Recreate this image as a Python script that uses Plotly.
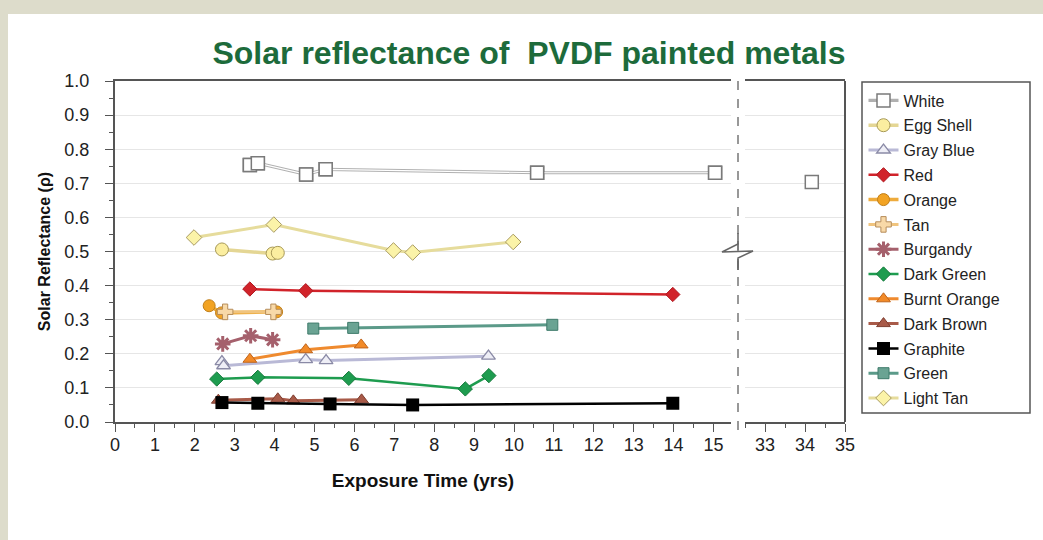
import plotly.graph_objects as go

# ---------------- data (years, reflectance) ----------------
series_names = ["White", "Egg Shell", "Gray Blue", "Red", "Orange", "Tan", "Burgandy",
                "Dark Green", "Burnt Orange", "Dark Brown", "Graphite", "Green", "Light Tan"]

white_x = [3.38, 3.58, 4.79, 5.28, 10.58, 15.04]
white_y = [0.754, 0.759, 0.726, 0.741, 0.731, 0.731]
white_late_x = [34.17]
white_late_y = [0.704]

eggshell_x = [2.68, 3.95, 4.08]
eggshell_y = [0.506, 0.494, 0.496]

grayblue_x = [2.68, 2.72, 4.78, 5.29, 9.36]
grayblue_y = [0.177, 0.165, 0.183, 0.180, 0.193]

red_x = [3.38, 4.78, 13.98]
red_y = [0.390, 0.385, 0.374]

orange_x = [2.36, 2.67, 4.05]
orange_y = [0.341, 0.320, 0.323]

tan_x = [2.76, 3.97]
tan_y = [0.323, 0.323]

burgandy_x = [2.70, 3.40, 3.95]
burgandy_y = [0.229, 0.253, 0.241]

darkgreen_x = [2.55, 3.58, 5.86, 8.78, 9.37]
darkgreen_y = [0.126, 0.131, 0.128, 0.097, 0.136]

burntorange_x = [3.38, 4.78, 6.17]
burntorange_y = [0.184, 0.212, 0.226]

darkbrown_x = [2.59, 4.08, 4.47, 6.18]
darkbrown_y = [0.064, 0.068, 0.062, 0.065]

graphite_x = [2.68, 3.58, 5.39, 7.46, 13.98]
graphite_y = [0.057, 0.055, 0.053, 0.050, 0.055]

green_x = [4.97, 5.97, 10.96]
green_y = [0.274, 0.276, 0.285]

lighttan_x = [1.98, 3.98, 6.98, 7.46, 9.98]
lighttan_y = [0.541, 0.579, 0.503, 0.497, 0.528]

x_tick_vals_main = list(range(0, 16))
x_tick_vals_late = [33, 34, 35]
y_tick_vals = [i / 10 for i in range(0, 11)]
y_tick_text = [f"{v:.1f}" for v in y_tick_vals]

# ---------------- layout geometry ----------------
W, H = 1043, 540
ML, MR, MT, MB = 115, 198, 81, 118
PW = W - ML - MR
PH = H - MT - MB
BREAK_L, BREAK_R, BREAK_C = 731, 745, 738  # pixel x of break


def px2paper_x(px):
    return (px - ML) / PW


def py2paper_y(py):
    return (H - MB - py) / PH


fig = go.Figure()

common = dict(mode="lines+markers", xaxis="x", yaxis="y")
white_marker = dict(symbol="square", size=13, color="white", line=dict(color="#7a7a7a", width=1.5))

# White: double-line look (gray line + white core + markers on top)
fig.add_trace(go.Scatter(x=white_x, y=white_y, name="White", legendgroup="White", **common,
                         line=dict(color="#b0b0b0", width=3.2), marker=white_marker))
fig.add_trace(go.Scatter(x=white_x, y=white_y, mode="lines", showlegend=False, legendgroup="White",
                         hoverinfo="skip", line=dict(color="#ffffff", width=1.2)))
fig.add_trace(go.Scatter(x=white_x, y=white_y, mode="markers", showlegend=False, legendgroup="White",
                         hoverinfo="skip", marker=white_marker))


def add_series(name, xs, ys, line, marker):
    fig.add_trace(go.Scatter(x=xs, y=ys, name=name, legendgroup=name, **common,
                             line=line, marker=marker))


add_series("Egg Shell", eggshell_x, eggshell_y, dict(color="#e4d694", width=3.5),
           dict(symbol="circle", size=13, color="#fbeea0", line=dict(color="#a89a58", width=1)))
add_series("Gray Blue", grayblue_x, grayblue_y, dict(color="#b9b9d6", width=3),
           dict(symbol="triangle-up", size=12, color="#eeeef6", line=dict(color="#8a8aa6", width=1.3)))
add_series("Red", red_x, red_y, dict(color="#d1232a", width=2.5),
           dict(symbol="diamond", size=11, color="#d1232a", line=dict(color="#b01820", width=1)))
add_series("Orange", orange_x, orange_y, dict(color="#eeab3c", width=3.5),
           dict(symbol="circle", size=12, color="#f2a323", line=dict(color="#c07f1a", width=1)))
add_series("Tan", tan_x, tan_y, dict(color="#f0c47e", width=3),
           dict(symbol="cross", size=13, color="#f8d9a8", line=dict(color="#b58c5a", width=1)))
add_series("Burgandy", burgandy_x, burgandy_y, dict(color="#a5606c", width=3),
           dict(symbol="asterisk-open", size=13, line=dict(color="#8c4a58", width=3)))
add_series("Dark Green", darkgreen_x, darkgreen_y, dict(color="#1e9c4f", width=2.5),
           dict(symbol="diamond", size=11, color="#1e9c4f", line=dict(color="#157a3c", width=1)))
add_series("Burnt Orange", burntorange_x, burntorange_y, dict(color="#ef8a2e", width=3),
           dict(symbol="triangle-up", size=12, color="#f28a28", line=dict(color="#c0641a", width=1)))
add_series("Dark Brown", darkbrown_x, darkbrown_y, dict(color="#a85a48", width=3),
           dict(symbol="triangle-up", size=12, color="#a85a48", line=dict(color="#7e3e30", width=1)))
add_series("Graphite", graphite_x, graphite_y, dict(color="#000000", width=2.5),
           dict(symbol="square", size=13, color="#000000"))
add_series("Green", green_x, green_y, dict(color="#5b9a89", width=3),
           dict(symbol="square", size=11, color="#6aa393", line=dict(color="#3e7a6a", width=1)))
add_series("Light Tan", lighttan_x, lighttan_y, dict(color="#e6dc9c", width=3),
           dict(symbol="diamond", size=12, color="#fbf3a8", line=dict(color="#a89a60", width=1)))

# White at 34 years, on the broken-axis segment
fig.add_trace(go.Scatter(x=white_late_x, y=white_late_y, mode="markers", showlegend=False,
                         legendgroup="White", xaxis="x2", yaxis="y", marker=white_marker))

axis_line = "#555555"
tick_font = dict(family="Arial, Liberation Sans, sans-serif", size=18, color="#222222")

x1_range = [0, (BREAK_L - ML) / 39.9]
x2_range = [35 - (ML + PW - BREAK_R) / 40.0, 35]

fig.update_layout(
    width=W, height=H,
    margin=dict(l=ML, r=MR, t=MT, b=MB, pad=0),
    paper_bgcolor="#dddccb",
    plot_bgcolor="white",
    font=dict(family="Arial, Liberation Sans, sans-serif", color="#222222"),
    title=dict(text="Solar reflectance of \u00a0PVDF painted metals",
               font=dict(family="Arial, Liberation Sans, sans-serif", size=32,
                         color="#1d6b3b", weight="bold"),
               xref="paper", x=px2paper_x(529), xanchor="center",
               yref="container", y=1 - 53 / H, yanchor="middle"),
    xaxis=dict(domain=[0, px2paper_x(BREAK_L)], range=x1_range,
               tickvals=x_tick_vals_main, ticks="outside", ticklen=8, tickwidth=1.2,
               tickcolor=axis_line, tickfont=tick_font, ticklabelstandoff=-3,
               minor=dict(dtick=0.5, ticks="outside", ticklen=4, tickcolor=axis_line, showgrid=False),
               showline=True, linecolor=axis_line, linewidth=2, mirror=True,
               showgrid=False, zeroline=False, anchor="y",
               title=dict(text="Exposure Time (yrs)", standoff=20,
                          font=dict(size=19, weight="bold", color="#111111"))),
    xaxis2=dict(domain=[px2paper_x(BREAK_R), 1], range=x2_range,
                tickvals=x_tick_vals_late, ticks="outside", ticklen=8, tickwidth=1.2,
                tickcolor=axis_line, tickfont=tick_font, ticklabelstandoff=-3,
                minor=dict(dtick=0.5, ticks="outside", ticklen=4, tickcolor=axis_line, showgrid=False),
                showline=True, linecolor=axis_line, linewidth=2, mirror=True,
                showgrid=False, zeroline=False, anchor="y"),
    yaxis=dict(range=[0, 1.0], tickvals=y_tick_vals, ticktext=y_tick_text,
               ticks="outside", ticklen=8, tickwidth=1.2, tickcolor=axis_line,
               tickfont=tick_font, ticklabelstandoff=12,
               minor=dict(dtick=0.05, ticks="outside", ticklen=4, tickcolor=axis_line, showgrid=False),
               showline=True, linecolor=axis_line, linewidth=2,
               showgrid=True, gridcolor="#e6e6e6", gridwidth=1, zeroline=False,
               title=dict(text="Solar Reflectance (\u03c1)", standoff=10,
                          font=dict(size=16, weight="bold", color="#111111"))),
    legend=dict(x=px2paper_x(862), y=py2paper_y(82), xanchor="left", yanchor="top",
                bgcolor="rgba(0,0,0,0)", borderwidth=1.5, bordercolor="rgba(0,0,0,0)",
                font=dict(family="Arial, Liberation Sans, sans-serif", size=16, color="#222222"),
                tracegroupgap=1, itemwidth=30, maxheight=420),
    showlegend=True,
)

shapes = []
# white panel on beige page
shapes.append(dict(type="rect", xref="paper", yref="paper", layer="below",
                   x0=px2paper_x(8), x1=px2paper_x(W + 5), y0=py2paper_y(H + 5), y1=py2paper_y(14),
                   fillcolor="white", line=dict(width=0)))
# legend frame
shapes.append(dict(type="rect", xref="paper", yref="paper", layer="below",
                   x0=px2paper_x(862), x1=px2paper_x(1030), y0=py2paper_y(413), y1=py2paper_y(82),
                   fillcolor="white", line=dict(color="#555555", width=1.5)))
# right frame line
shapes.append(dict(type="line", xref="paper", yref="paper", x0=1, x1=1, y0=0, y1=1,
                   line=dict(color=axis_line, width=2)))
# dashed break line with zigzag
bx = px2paper_x(BREAK_C)
shapes.append(dict(type="line", xref="paper", yref="paper", x0=bx, x1=bx,
                   y0=py2paper_y(H - MB + 8), y1=py2paper_y(233),
                   line=dict(color="#777777", width=1.5, dash="dash")))
shapes.append(dict(type="line", xref="paper", yref="paper", x0=bx, x1=bx,
                   y0=py2paper_y(270), y1=1,
                   line=dict(color="#777777", width=1.5, dash="dash")))
zz = [(738, 233), (738, 244), (722, 252), (753, 251), (738, 258), (738, 270)]
path = "M " + " L ".join(f"{px2paper_x(a):.5f},{py2paper_y(b):.5f}" for a, b in zz)
shapes.append(dict(type="path", xref="paper", yref="paper", path=path,
                   line=dict(color="#666666", width=1.5)))
fig.update_layout(shapes=shapes)

fig.write_html("out.html", config={"displayModeBar": False},
               post_script="document.body.style.margin='0';")
